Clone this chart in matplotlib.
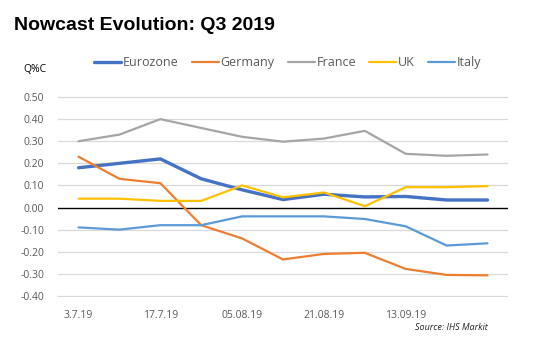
import matplotlib
matplotlib.use('Agg')
import matplotlib.pyplot as plt

# x categories (only every other date is labelled)
dates = ['3.7.19', '', '17.7.19', '', '05.08.19', '', '21.08.19', '', '13.09.19', '', '']

eurozone = [0.18, 0.20, 0.22, 0.13, 0.08, 0.036, 0.06, 0.048, 0.05, 0.034, 0.034]
germany = [0.23, 0.13, 0.11, -0.08, -0.14, -0.235, -0.21, -0.205, -0.278, -0.305, -0.307]
france = [0.30, 0.33, 0.40, 0.36, 0.32, 0.298, 0.312, 0.347, 0.243, 0.234, 0.24]
uk = [0.04, 0.04, 0.03, 0.03, 0.10, 0.046, 0.068, 0.006, 0.092, 0.092, 0.097]
italy = [-0.09, -0.10, -0.08, -0.08, -0.04, -0.04, -0.04, -0.052, -0.085, -0.172, -0.162]

series = [
    ('Eurozone', eurozone, '#4472C4', 2.4),
    ('Germany', germany, '#ED7D31', 1.6),
    ('France', france, '#A5A5A5', 1.6),
    ('UK', uk, '#FFC000', 1.6),
    ('Italy', italy, '#5B9BD5', 1.6),
]

plt.rcParams['font.family'] = ['Open Sans', 'DejaVu Sans']

fig = plt.figure(figsize=(5.33, 3.54), dpi=100)
ax = fig.add_axes([0.109, 0.161, 0.844, 0.568])

x = list(range(len(dates)))
yticks = [0.5, 0.4, 0.3, 0.2, 0.1, 0.0, -0.1, -0.2, -0.3, -0.4]
for yv in yticks:
    if yv != 0:
        ax.axhline(yv, color='#D9D9D9', lw=0.9, zorder=1)
ax.axhline(0, color='black', lw=1.0, zorder=2)

for name, vals, col, lw in series:
    ax.plot(x, vals, color=col, lw=lw, label=name, zorder=3, solid_capstyle='round')

ax.set_xlim(-0.5, len(dates) - 0.5)
ax.set_ylim(-0.405, 0.505)
ax.set_yticks(yticks)
ax.set_yticklabels(['%.2f' % v for v in yticks])
ax.set_xticks(x)
ax.set_xticklabels(dates)
ax.tick_params(axis='both', length=0, labelsize=7.5, colors='#595959')
ax.tick_params(axis='y', pad=10)
ax.tick_params(axis='x', pad=9)
for s in ax.spines.values():
    s.set_visible(False)

fig.text(0.026, 0.928, 'Nowcast Evolution: Q3 2019', fontsize=14, fontweight='bold',
         family='Liberation Sans', va='center', ha='left')
fig.text(0.043, 0.805, 'Q%C', fontsize=7.5, va='center', ha='left')
fig.legend(loc='center left', bbox_to_anchor=(0.177, 0.823), ncol=5, frameon=False,
           fontsize=9, handlelength=2.15, handletextpad=0.15, columnspacing=1.05,
           labelcolor='#595959', borderpad=0, borderaxespad=0)
fig.text(0.915, 0.075, 'Source: IHS Markit', fontsize=6.5, style='italic', ha='right',
         va='center', color='#222222')

fig.savefig('out.png', dpi=100)
